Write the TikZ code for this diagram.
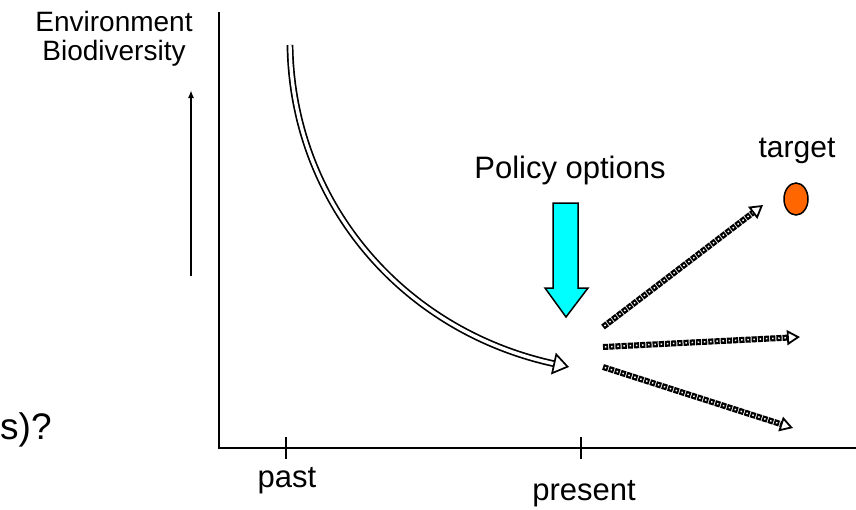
\documentclass[tikz,border=0pt]{standalone}
\usepackage{fontspec}
\setmainfont{Liberation Sans}
\usetikzlibrary{arrows.meta,positioning,shapes.geometric}
\definecolor{goalorange}{HTML}{FF6600}
\definecolor{policycyan}{RGB}{0,255,255}

\begin{document}
\begin{tikzpicture}[x=1pt,y=-1pt,
      axis/.style={line width=1.8pt},
      lbl/.style={inner sep=0pt,font=\fontsize{31}{34}\selectfont},
      trend/.style={double=white,double distance=3.4pt,line width=1.7pt,
        -{Triangle[open,length=16pt,width=22pt,line width=1.7pt]}},
      option/.style={line width=6pt,dash pattern=on 5.2pt off 1pt,
        -{Triangle[open,length=13pt,width=15pt,line width=1.8pt]},
        postaction={draw=white,line width=1.5pt,dash pattern=on 1.5pt off 4.7pt,dash phase=4.35pt,arrows=-,shorten >=13pt}},
      policy/.style={draw,fill=policycyan,line width=1.5pt,line join=miter}
      ]

      \useasboundingbox (0,0) rectangle (856,509);

      % axes
      \coordinate (ytop) at (219,12);
      \coordinate (xend) at (856,448);
      \coordinate (past) at (286,448);
      \coordinate (present) at (581,448);
      \draw[axis] (ytop) |- (xend);
      \draw[axis] ([yshift=11pt]past) -- ([yshift=-11pt]past);
      \draw[axis] ([yshift=11pt]present) -- ([yshift=-11pt]present);

      \node[lbl,anchor=base] (pastlbl) at (287,487) {past};
      \node[lbl,anchor=base] (presentlbl) at (584,500) {present};

      \node[inner sep=0pt,anchor=north,align=center,font=\fontsize{28}{29}\selectfont] (ylbl) at (114,11) {
        Environment\\
        Biodiversity
      };
      \coordinate (ylo) at (191,276);
      \coordinate (yhi) at (191,90);
      \draw[line width=2.8pt,-{Latex[length=8pt,width=6pt]}] (ylo) -- (yhi);

      \node[inner sep=0pt,anchor=base west,font=\fontsize{37}{40}\selectfont] (question) at (0,439) {s)?};

      % trend so far
      \coordinate (hist) at (290,45);
      \coordinate (now) at (569,367);
      \draw[trend] (hist) .. controls (292,200) and (400,330) .. (now);

      % policy
      \node[lbl,anchor=base] (policylbl) at (570,178) {Policy options};
      \draw[policy] (553,203) -- (578,203) -- (578,288) -- (588,288) -- (566,317) -- (545,288) -- (553,288) -- cycle;

      % futures
      \node[lbl,anchor=base,font=\fontsize{30}{33}\selectfont] (targetlbl) at (797,157) {target};
      \node[ellipse,draw,fill=goalorange,line width=1.5pt,minimum width=24pt,minimum height=32pt,inner sep=0pt] (goal) at (796,199) {};

      \coordinate (up0) at (603,327);
      \coordinate (up1) at (763,205);
      \coordinate (mid0) at (603,347);
      \coordinate (mid1) at (800,337);
      \coordinate (down0) at (603,367);
      \coordinate (down1) at (793,428);
      \draw[option] (up0) -- (up1);
      \draw[option] (mid0) -- (mid1);
      \draw[option] (down0) -- (down1);

    \end{tikzpicture}
\end{document}
